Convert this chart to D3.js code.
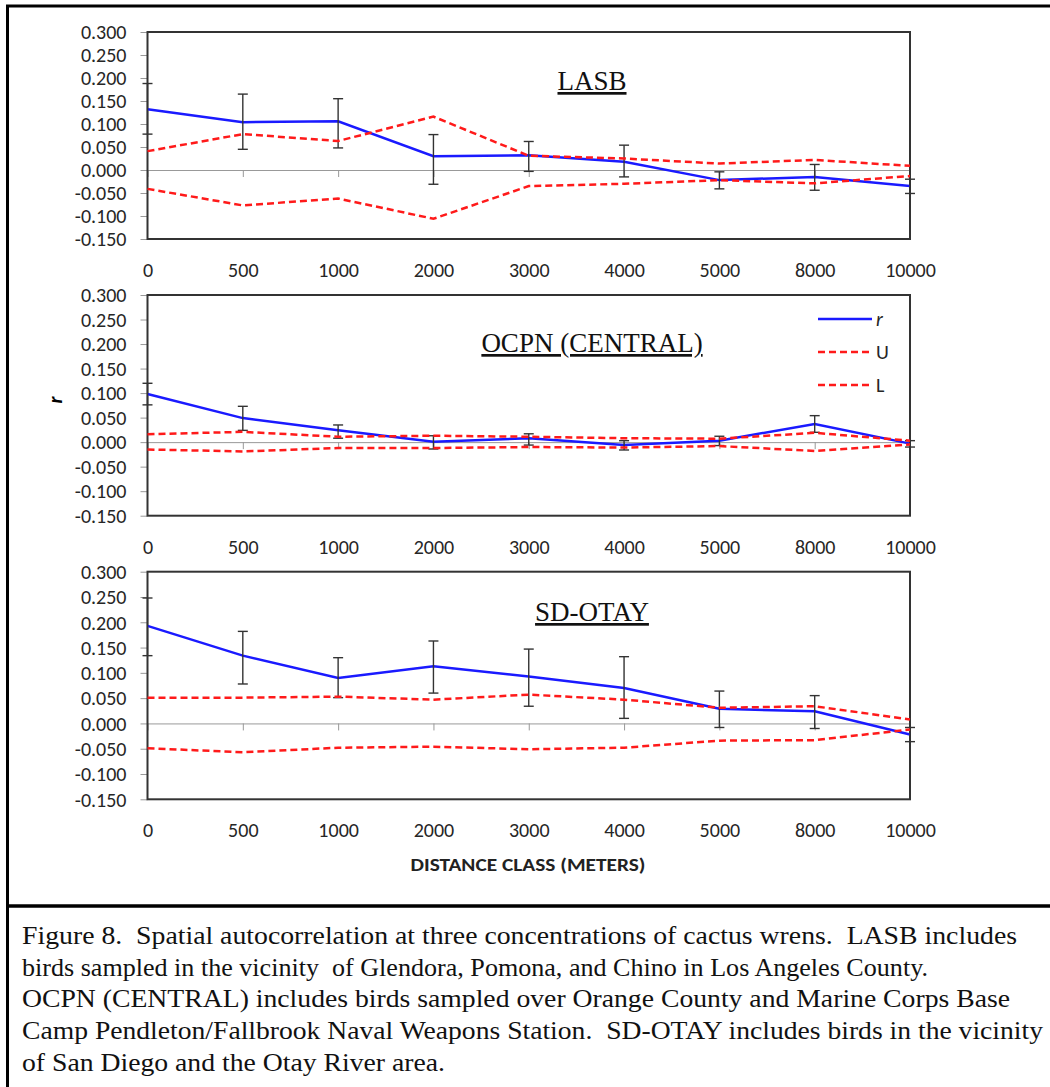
<!DOCTYPE html>
<html>
<head>
<meta charset="utf-8">
<script src="https://cdn.jsdelivr.net/npm/d3@7"></script>
<style>
  body { margin: 0; background: #fff; }
  svg { display: block; }
  .tick text { font-family: Carlito, Calibri, sans-serif; font-size: 20px; fill: #262626; }
  .caption { font-family: "Liberation Serif", "Times New Roman", serif; font-size: 25px; fill: #111; white-space: pre; }
</style>
</head>
<body>
<div id="chart"></div>
<script>
var categories = ["0", "500", "1000", "2000", "3000", "4000", "5000", "8000", "10000"];
var yTicks = [-0.15, -0.1, -0.05, 0, 0.05, 0.1, 0.15, 0.2, 0.25, 0.3];

// LASB
var lasbR  = [0.132, 0.104, 0.106, 0.030, 0.032, 0.018, -0.022, -0.015, -0.035];
var lasbU  = [0.041, 0.078, 0.063, 0.116, 0.031, 0.025, 0.014, 0.022, 0.009];
var lasbL  = [-0.041, -0.077, -0.062, -0.106, -0.035, -0.030, -0.022, -0.029, -0.013];
var lasbHi = [0.188, 0.165, 0.155, 0.077, 0.062, 0.054, -0.004, 0.012, -0.020];
var lasbLo = [0.078, 0.045, 0.048, -0.031, -0.003, -0.015, -0.041, -0.044, -0.051];

// OCPN (CENTRAL)
var ocpnR  = [0.098, 0.049, 0.024, 0.001, 0.008, -0.006, 0.003, 0.037, -0.003];
var ocpnU  = [0.016, 0.021, 0.011, 0.013, 0.011, 0.008, 0.007, 0.019, 0.003];
var ocpnL  = [-0.015, -0.019, -0.012, -0.012, -0.010, -0.011, -0.008, -0.018, -0.005];
var ocpnHi = [0.120, 0.073, 0.035, 0.013, 0.017, 0.003, 0.012, 0.054, 0.003];
var ocpnLo = [0.076, 0.024, 0.008, -0.014, -0.006, -0.016, -0.007, 0.020, -0.010];

// SD-OTAY
var sdR  = [0.193, 0.134, 0.090, 0.113, 0.093, 0.070, 0.029, 0.024, -0.022];
var sdU  = [0.051, 0.051, 0.053, 0.047, 0.057, 0.047, 0.031, 0.034, 0.008];
var sdL  = [-0.049, -0.057, -0.048, -0.046, -0.051, -0.048, -0.034, -0.033, -0.012];
var sdHi = [0.248, 0.182, 0.130, 0.163, 0.147, 0.132, 0.064, 0.055, -0.008];
var sdLo = [0.134, 0.078, 0.051, 0.060, 0.034, 0.010, -0.008, -0.010, -0.036];

var captionLines = [
    "Figure 8.  Spatial autocorrelation at three concentrations of cactus wrens.  LASB includes",
    "birds sampled in the vicinity  of Glendora, Pomona, and Chino in Los Angeles County.",
    "OCPN (CENTRAL) includes birds sampled over Orange County and Marine Corps Base",
    "Camp Pendleton/Fallbrook Naval Weapons Station.  SD-OTAY includes birds in the vicinity",
    "of San Diego and the Otay River area."
];
var captionWidths = [995, 906, 988, 1021, 423];

var W = 1050, H = 1087;
var plotLeft = 147.5, plotRight = 910;

var svg = d3.select("#chart").append("svg")
    .attr("width", W)
    .attr("height", H);

// outer boxes
svg.append("rect")
    .attr("x", 7.5).attr("y", 6)
    .attr("width", W + 10).attr("height", 900)
    .attr("fill", "none").attr("stroke", "#000").attr("stroke-width", 3);
svg.append("rect")
    .attr("x", 7.5).attr("y", 906)
    .attr("width", W + 10).attr("height", H + 10)
    .attr("fill", "none").attr("stroke", "#000").attr("stroke-width", 3);

var x = d3.scalePoint()
    .domain(categories)
    .range([plotLeft, plotRight]);

function drawPanel(top, bottom, title, titleY, rVals, uVals, lVals, hi, lo, showLegend) {
    var y = d3.scaleLinear()
        .domain([-0.15, 0.3])
        .range([bottom, top]);

    var g = svg.append("g");

    // y axis
    var yAxis = g.append("g")
        .attr("transform", "translate(" + plotLeft + ",0)")
        .call(d3.axisLeft(y)
            .tickValues(yTicks)
            .tickSize(7)
            .tickSizeOuter(0)
            .tickPadding(14)
            .tickFormat(function(d) { return d.toFixed(3); }));
    yAxis.select(".domain").remove();
    yAxis.selectAll(".tick line").attr("stroke", "#999");
    yAxis.selectAll(".tick text").attr("dy", "0.34em");

    // zero line with category ticks
    var xAxis = g.append("g")
        .attr("transform", "translate(0," + y(0) + ")")
        .call(d3.axisBottom(x)
            .tickSize(7)
            .tickSizeOuter(0)
            .tickFormat(""));
    xAxis.select(".domain").attr("stroke", "#999");
    xAxis.selectAll(".tick line").attr("stroke", "#999");

    // category labels under the plot
    var labels = g.append("g")
        .attr("transform", "translate(0," + bottom + ")")
        .call(d3.axisBottom(x).tickSize(0).tickPadding(0));
    labels.select(".domain").remove();
    labels.selectAll(".tick text").attr("y", 38).attr("dy", 0);

    // plot frame
    g.append("rect")
        .attr("x", plotLeft).attr("y", top)
        .attr("width", plotRight - plotLeft).attr("height", bottom - top)
        .attr("fill", "none").attr("stroke", "#333").attr("stroke-width", 2);

    var line = d3.line()
        .x(function(d, i) { return x(categories[i]); })
        .y(function(d) { return y(d); });

    g.append("path")
        .datum(rVals)
        .attr("d", line)
        .attr("fill", "none")
        .attr("stroke", "#1a1aff")
        .attr("stroke-width", 2.5);

    // error bars
    var eb = g.selectAll(".eb").data(categories).enter().append("g").attr("class", "eb");
    eb.append("line")
        .attr("x1", function(d) { return x(d); })
        .attr("x2", function(d) { return x(d); })
        .attr("y1", function(d, i) { return y(hi[i]); })
        .attr("y2", function(d, i) { return y(lo[i]); });
    eb.append("line")
        .attr("x1", function(d) { return x(d) - 5; })
        .attr("x2", function(d) { return x(d) + 5; })
        .attr("y1", function(d, i) { return y(hi[i]); })
        .attr("y2", function(d, i) { return y(hi[i]); });
    eb.append("line")
        .attr("x1", function(d) { return x(d) - 5; })
        .attr("x2", function(d) { return x(d) + 5; })
        .attr("y1", function(d, i) { return y(lo[i]); })
        .attr("y2", function(d, i) { return y(lo[i]); });
    eb.selectAll("line").attr("stroke", "#333").attr("stroke-width", 1.4);

    [uVals, lVals].forEach(function(vals) {
        g.append("path")
            .datum(vals)
            .attr("d", line)
            .attr("fill", "none")
            .attr("stroke", "#ff1a1a")
            .attr("stroke-width", 2.5)
            .attr("stroke-dasharray", "7,4");
    });

    // panel title
    g.append("text")
        .attr("x", 592)
        .attr("y", titleY)
        .attr("text-anchor", "middle")
        .style("font-family", "'Liberation Serif', 'Times New Roman', serif")
        .style("font-size", "27px")
        .style("text-decoration", "underline")
        .attr("fill", "#111")
        .text(title);

    if (showLegend) {
        var items = [
            {name: "r", color: "#1a1aff", dash: null, italic: true},
            {name: "U", color: "#ff1a1a", dash: "7,4", italic: false},
            {name: "L", color: "#ff1a1a", dash: "7,4", italic: false}
        ];
        var lg = g.selectAll(".lg").data(items).enter().append("g")
            .attr("transform", function(d, i) { return "translate(818," + (319 + i * 33) + ")"; });
        lg.append("line")
            .attr("x1", 0).attr("x2", 54)
            .attr("stroke", function(d) { return d.color; })
            .attr("stroke-width", 2.5)
            .attr("stroke-dasharray", function(d) { return d.dash; });
        lg.append("text")
            .attr("x", 58)
            .attr("dy", "0.34em")
            .style("font-family", "Carlito, Calibri, sans-serif")
            .style("font-size", "20px")
            .style("font-style", function(d) { return d.italic ? "italic" : "normal"; })
            .attr("fill", "#262626")
            .text(function(d) { return d.name; });
    }
}

drawPanel(32, 239, "LASB", 90, lasbR, lasbU, lasbL, lasbHi, lasbLo, false);
drawPanel(295, 515.7, "OCPN (CENTRAL)", 352, ocpnR, ocpnU, ocpnL, ocpnHi, ocpnLo, true);
drawPanel(571.7, 799.3, "SD-OTAY", 621, sdR, sdU, sdL, sdHi, sdLo, false);

// axis titles
svg.append("text")
    .attr("transform", "translate(62,400) rotate(-90)")
    .attr("text-anchor", "middle")
    .style("font-family", "Carlito, Calibri, sans-serif")
    .style("font-size", "20px")
    .style("font-weight", "bold")
    .style("font-style", "italic")
    .text("r");

svg.append("text")
    .attr("x", 528)
    .attr("y", 871)
    .attr("text-anchor", "middle")
    .attr("textLength", 235)
    .attr("lengthAdjust", "spacingAndGlyphs")
    .style("font-family", "Carlito, Calibri, sans-serif")
    .style("font-size", "18px")
    .style("font-weight", "bold")
    .attr("fill", "#222")
    .text("DISTANCE CLASS (METERS)");

// caption
svg.selectAll(".caption").data(captionLines).enter().append("text")
    .attr("class", "caption")
    .attr("x", 22)
    .attr("y", function(d, i) { return 944 + i * 31.7; })
    .attr("textLength", function(d, i) { return captionWidths[i]; })
    .attr("lengthAdjust", "spacingAndGlyphs")
    .text(function(d) { return d; });
</script>
</body>
</html>
